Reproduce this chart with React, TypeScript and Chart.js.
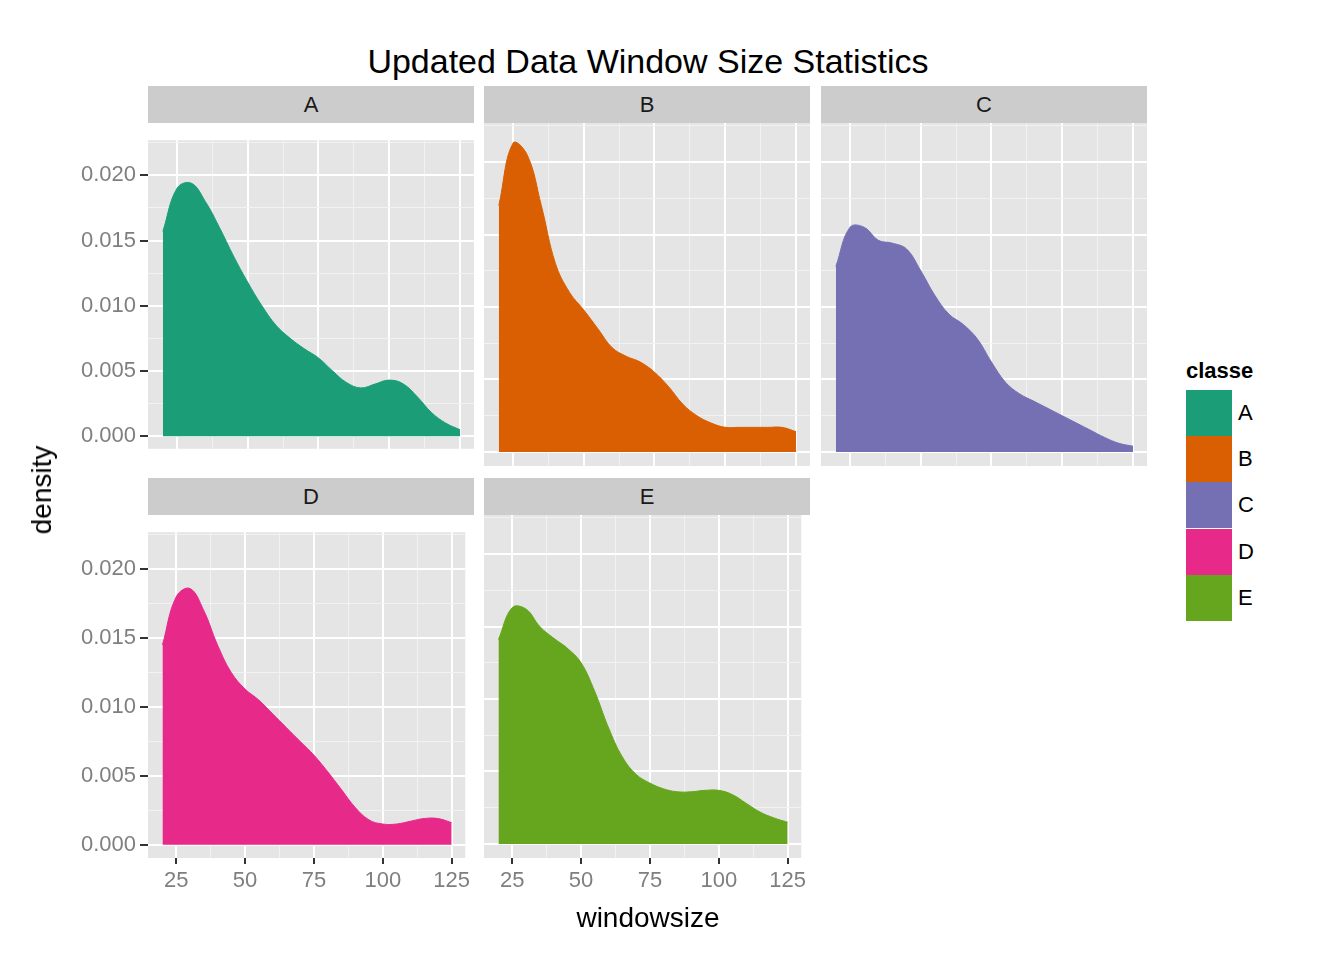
import React, { useEffect, useRef } from 'react';
import Chart from 'chart.js/auto';

const xs = [20, 25, 30, 35, 40, 45, 50, 55, 60, 65, 70, 75, 80, 85, 90, 95, 100, 105, 110, 115, 120, 125];
const classes = ['A', 'B', 'C', 'D', 'E'];
const colors = ['#1B9E77', '#D95F02', '#7570B3', '#E7298A', '#66A61E'];

const densA = [0.0157, 0.0190, 0.0194, 0.0180, 0.0160, 0.0138, 0.0118, 0.0100, 0.0085, 0.0075, 0.0067, 0.0060, 0.0050, 0.0041, 0.0037, 0.0040, 0.0043, 0.0040, 0.0030, 0.0018, 0.0010, 0.0005];
const densB = [0.0170, 0.0213, 0.0205, 0.0170, 0.0130, 0.0110, 0.0098, 0.0085, 0.0072, 0.0066, 0.0062, 0.0055, 0.0045, 0.0033, 0.0025, 0.0020, 0.0017, 0.0017, 0.0017, 0.0017, 0.0017, 0.0014];
const densC = [0.0128, 0.0155, 0.0155, 0.0146, 0.0144, 0.0140, 0.0125, 0.0108, 0.0095, 0.0088, 0.0078, 0.0062, 0.0048, 0.0040, 0.0035, 0.0030, 0.0025, 0.0020, 0.0015, 0.0010, 0.0006, 0.0004];
const densD = [0.0145, 0.0180, 0.0186, 0.0170, 0.0145, 0.0125, 0.0113, 0.0105, 0.0095, 0.0085, 0.0075, 0.0065, 0.0053, 0.0040, 0.0027, 0.0018, 0.0015, 0.0015, 0.0017, 0.0019, 0.0019, 0.0016];
const densE = [0.0141, 0.0163, 0.0162, 0.0150, 0.0142, 0.0135, 0.0125, 0.0105, 0.0080, 0.0060, 0.0048, 0.0042, 0.0038, 0.0036, 0.0036, 0.0037, 0.0037, 0.0034, 0.0028, 0.0022, 0.0018, 0.0015];
const series = [densA, densB, densC, densD, densE];

const xTicks = [25, 37.5, 50, 62.5, 75, 87.5, 100, 112.5, 125];
const yTicks = [0, 0.0025, 0.005, 0.0075, 0.01, 0.0125, 0.015, 0.0175, 0.02, 0.0225];

const FONT = '"Liberation Sans", Arial, sans-serif';

// panel layout: [left, top, showY, showX]
const panels: [number, number, boolean, boolean][] = [
  [148, 123, true, false],
  [484, 123, false, false],
  [821, 123, false, false],
  [148, 515, true, true],
  [484, 515, false, true],
];
const PW = 326;
const PH = 343;
const YW = 100;
const XH = 50;

const bgPlugin = {
  id: 'panelBg',
  beforeDraw(chart: any) {
    const { ctx, chartArea: a } = chart;
    ctx.save();
    ctx.fillStyle = '#E5E5E5';
    ctx.fillRect(a.left, a.top, a.right - a.left, a.bottom - a.top);
    ctx.restore();
  },
};

const Panel: React.FC<{ idx: number }> = ({ idx }) => {
  const ref = useRef<HTMLCanvasElement | null>(null);
  const [left, top, showY, showX] = panels[idx];
  const w = PW + (showY ? YW : 0);
  const h = PH + (showX ? XH : 0);

  useEffect(() => {
    if (!ref.current) return;
    const isMajorX = (v: number) => v % 25 === 0;
    const isMajorY = (v: number) => Math.abs(Math.round(v / 0.005) * 0.005 - v) < 1e-9;
    const chart = new Chart(ref.current, {
      type: 'line',
      data: {
        datasets: [{
          data: xs.map((x, i) => ({ x, y: series[idx][i] })),
          borderColor: colors[idx],
          backgroundColor: colors[idx],
          borderWidth: 1,
          pointRadius: 0,
          tension: 0.4,
          fill: 'origin',
        }],
      },
      options: {
        animation: false,
        responsive: false,
        maintainAspectRatio: false,
        layout: { padding: 0 },
        plugins: { legend: { display: false }, tooltip: { enabled: false } },
        scales: {
          x: {
            type: 'linear', min: 14.75, max: 129.95,
            afterBuildTicks: (s: any) => { s.ticks = xTicks.map((v) => ({ value: v })); },
            afterFit: (s: any) => { s.height = showX ? XH : 0; },
            border: { display: false },
            grid: {
              color: (c: any) => (isMajorX(c.tick.value) ? '#FFFFFF' : '#F2F2F2'),
              lineWidth: (c: any) => (isMajorX(c.tick.value) ? 2 : 1),
              drawTicks: showX, tickLength: 6,
              tickColor: (c: any) => (isMajorX(c.tick.value) ? '#333333' : 'rgba(0,0,0,0)'),
            },
            ticks: {
              display: showX, autoSkip: false, maxRotation: 0, padding: 4,
              color: '#7F7F7F', font: { size: 22, family: FONT },
              callback: (v: any) => (isMajorX(Number(v)) ? String(v) : ''),
            },
          },
          y: {
            type: 'linear', min: -0.000966, max: 0.02269,
            afterBuildTicks: (s: any) => { s.ticks = yTicks.map((v) => ({ value: v })); },
            afterFit: (s: any) => { s.width = showY ? YW : 0; },
            border: { display: false },
            grid: {
              color: (c: any) => (isMajorY(c.tick.value) ? '#FFFFFF' : '#F2F2F2'),
              lineWidth: (c: any) => (isMajorY(c.tick.value) ? 2 : 1),
              drawTicks: showY, tickLength: 8,
              tickColor: (c: any) => (isMajorY(c.tick.value) ? '#333333' : 'rgba(0,0,0,0)'),
            },
            ticks: {
              display: showY, autoSkip: false, padding: 4,
              color: '#7F7F7F', font: { size: 22, family: FONT },
              callback: (v: any) => (isMajorY(Number(v)) ? Number(v).toFixed(3) : ''),
            },
          },
        },
      },
      plugins: [bgPlugin],
    });
    return () => chart.destroy();
  }, [idx]);

  return (
    <>
      <div style={{
        position: 'absolute', left, top: top - 37, width: PW, height: 37, background: '#CCCCCC',
        textAlign: 'center', lineHeight: '38px', fontSize: 22, color: '#1A1A1A',
      }}>{classes[idx]}</div>
      <canvas ref={ref} width={w} height={h}
        style={{ position: 'absolute', left: left - (showY ? YW : 0), top, width: w, height: h, display: 'block' }} />
    </>
  );
};

const App: React.FC = () => (
  <div style={{ position: 'fixed', left: 0, top: 0, width: 1344, height: 960, background: '#fff', fontFamily: FONT }}>
    <div style={{ position: 'absolute', left: 148, width: 1000, top: 42, textAlign: 'center', fontSize: 34 }}>
      Updated Data Window Size Statistics
    </div>
    {panels.map((_, i) => <Panel key={i} idx={i} />)}
    <div style={{ position: 'absolute', left: 148, width: 1000, top: 902, textAlign: 'center', fontSize: 28 }}>windowsize</div>
    <div style={{ position: 'absolute', left: 42, top: 490, transform: 'translate(-50%,-50%) rotate(-90deg)', fontSize: 28 }}>density</div>
    <div style={{ position: 'absolute', left: 1186, top: 358, fontSize: 22, fontWeight: 'bold' }}>classe</div>
    {classes.map((c, i) => (
      <React.Fragment key={c}>
        <div style={{ position: 'absolute', left: 1186, top: 390 + i * 46.2, width: 46, height: 46, background: colors[i] }} />
        <div style={{ position: 'absolute', left: 1238, top: 390 + i * 46.2, lineHeight: '46px', fontSize: 22 }}>{c}</div>
      </React.Fragment>
    ))}
  </div>
);

export default App;
